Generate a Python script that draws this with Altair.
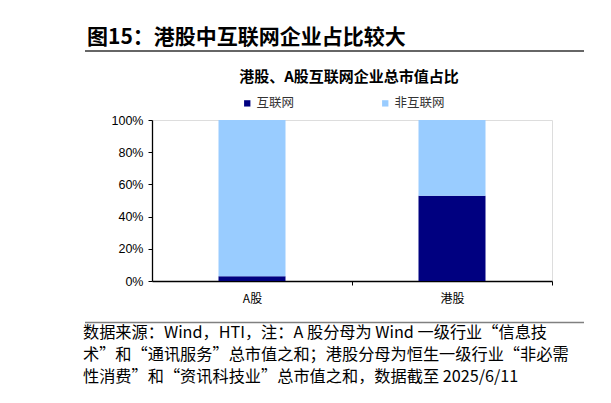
import altair as alt
import pandas as pd

# ---- data ----
markets = ["A股", "港股"]
internet_share = [0.03, 0.53]
non_internet_share = [0.97, 0.47]
series_names = ["互联网", "非互联网"]
series_colors = ["#000080", "#99CCFF"]
y_ticks = [0, 0.2, 0.4, 0.6, 0.8, 1.0]

main_title = "图15：港股中互联网企业占比较大"
chart_title = "港股、A股互联网企业总市值占比"
footer_lines = [
    "数据来源：Wind，HTI，注：A 股分母为 Wind 一级行业“信息技",
    "术”和“通讯服务”总市值之和；港股分母为恒生一级行业“非必需",
    "性消费”和“资讯科技业”总市值之和，数据截至 2025/6/11",
]

rows = []
for i, m in enumerate(markets):
    rows.append({"market": m, "series": series_names[0], "value": internet_share[i], "ord": 0})
    rows.append({"market": m, "series": series_names[1], "value": non_internet_share[i], "ord": 1})
df = pd.DataFrame(rows)

CJK = "Noto Sans CJK SC"

bars = alt.Chart(df).mark_bar(size=67).encode(
    x=alt.X(
        "market:N",
        sort=markets,
        title=None,
        scale=alt.Scale(paddingInner=0.665, paddingOuter=0.3325),
        axis=alt.Axis(
            labelAngle=0,
            labelFont=CJK,
            labelFontSize=12,
            labelColor="#000000",
            labelPadding=8,
            tickSize=4,
            tickOffset=100,
            labelOffset=-100,
            tickColor="#000000",
            domainColor="#000000",
            domainWidth=1.3,
        ),
    ),
    y=alt.Y(
        "value:Q",
        stack="zero",
        title=None,
        scale=alt.Scale(domain=[0, 1], nice=False),
        axis=alt.Axis(
            values=y_ticks,
            format=".0%",
            grid=False,
            labelFont="Liberation Sans",
            labelFontSize=12.5,
            labelColor="#000000",
            labelPadding=5,
            tickSize=4,
            tickColor="#000000",
            domainColor="#000000",
            domainWidth=1.3,
        ),
    ),
    color=alt.Color(
        "series:N",
        scale=alt.Scale(domain=series_names, range=series_colors),
        legend=alt.Legend(
            title=None,
            orient="none",
            legendX=89,
            legendY=-23,
            direction="horizontal",
            symbolType="square",
            symbolSize=40,
            symbolStrokeWidth=0,
            labelFont=CJK,
            labelFontSize=12.5,
            labelColor="#333333",
            labelOffset=3,
            columnPadding=84,
        ),
    ),
    order=alt.Order("ord:Q", sort="ascending"),
)

def text_layer(txt, x, y, size, weight="normal", align="left", color="#000000"):
    return alt.Chart(pd.DataFrame({"t": [txt]})).mark_text(
        font=CJK, fontSize=size, fontWeight=weight, align=align,
        baseline="middle", color=color
    ).encode(text="t:N", x=alt.value(x), y=alt.value(y))

def rule_layer(x1, x2, y, color, width):
    return alt.Chart(pd.DataFrame({"k": [0]})).mark_rule(
        color=color, strokeWidth=width
    ).encode(x=alt.value(x1), x2=alt.value(x2), y=alt.value(y))

layers = [
    bars,
    text_layer(main_title, -65, -82, 21, weight="bold"),
    rule_layer(-67, 432, -69, "#333333", 1.5),
    text_layer(chart_title, 197, -43, 15, weight="bold", align="center"),
    rule_layer(-67, 432, 202.5, "#808080", 1.5),
    text_layer(footer_lines[0], -69, 213, 16.2),
    text_layer(footer_lines[1], -69, 235, 16.2),
    text_layer(footer_lines[2], -69, 257, 16.2),
]

chart = alt.layer(*layers).properties(
    width=400,
    height=161,
    autosize=alt.AutoSizeParams(type="none"),
    padding={"left": 144, "top": 112, "right": 51, "bottom": 107},
).configure_view(stroke=None).configure(background="#ffffff")

chart.save("out.html", embed_options={"renderer": "svg", "actions": False})
